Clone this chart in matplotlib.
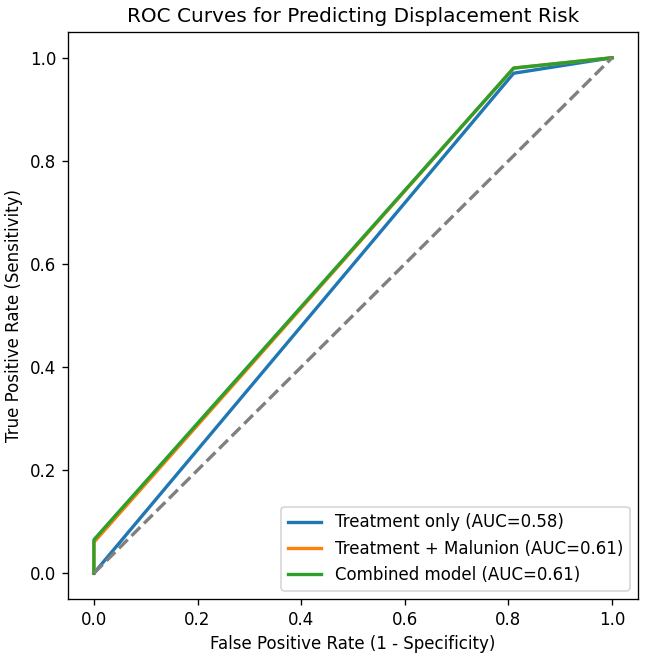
import matplotlib
matplotlib.use("Agg")
import matplotlib.pyplot as plt

# roc points
fpr_treat = [0.0, 0.81, 1.0]
tpr_treat = [0.0, 0.97, 1.0]

fpr_mal = [0.0, 0.0, 0.81, 1.0]
tpr_mal = [0.0, 0.06, 0.98, 1.0]

fpr_comb = [0.0, 0.0, 0.81, 1.0]
tpr_comb = [0.0, 0.065, 0.98, 1.0]

labels = ["Treatment only (AUC=0.58)",
          "Treatment + Malunion (AUC=0.61)",
          "Combined model (AUC=0.61)"]

# picture looks like a 120 dpi render
fig = plt.figure(figsize=(6.46 / 1.2, 6.55 / 1.2), dpi=120)
ax = fig.add_axes([68 / 646, 56 / 655, 570 / 646, 567 / 655])

ax.plot(fpr_treat, tpr_treat, lw=2, label=labels[0])
ax.plot(fpr_mal, tpr_mal, lw=2, label=labels[1])
ax.plot(fpr_comb, tpr_comb, lw=2, label=labels[2])
ax.plot([0, 1], [0, 1], "--", color="gray", lw=2)

ax.set_xlabel("False Positive Rate (1 - Specificity)")
ax.set_ylabel("True Positive Rate (Sensitivity)")
ax.set_title("ROC Curves for Predicting Displacement Risk")
ax.legend(loc="lower right")

fig.savefig("out.png", dpi=120)
